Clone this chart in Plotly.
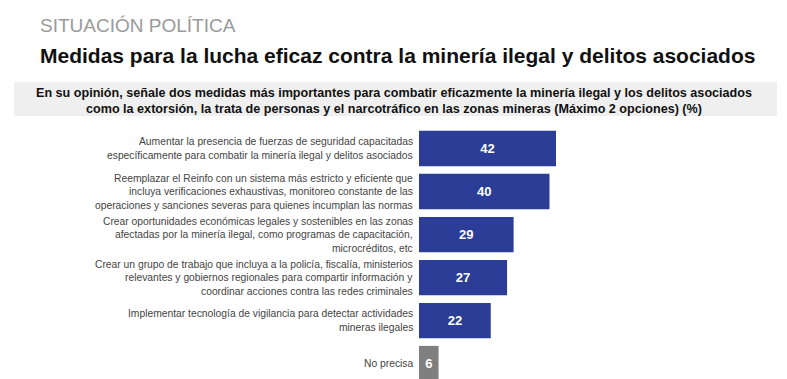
import plotly.graph_objects as go

categories = [
    "Aumentar la presencia de fuerzas de seguridad capacitadas<br>específicamente para combatir la minería ilegal y delitos asociados",
    "Reemplazar el Reinfo con un sistema más estricto y eficiente que<br>incluya verificaciones exhaustivas, monitoreo constante de las<br>operaciones y sanciones severas para quienes incumplan las normas",
    "Crear oportunidades económicas legales y sostenibles en las zonas<br>afectadas por la minería ilegal, como programas de capacitación,<br>microcréditos, etc",
    "Crear un grupo de trabajo que incluya a la policía, fiscalía, ministerios<br>relevantes y gobiernos regionales para compartir información y<br>coordinar acciones contra las redes criminales",
    "Implementar tecnología de vigilancia para detectar actividades<br>mineras ilegales",
    "No precisa",
]
values = [42, 40, 29, 27, 22, 6]
bar_colors = ["#2b3d96", "#2b3d96", "#2b3d96", "#2b3d96", "#2b3d96", "#7f7f7f"]

W, H = 787, 379
OFF = 8  # page body margin offset
L, T = 419 - OFF, 127 - OFF
PW, PH = W - L, H - T
PX_PER_UNIT = 137 / 42
Y_LOW = 5.36 + OFF / 43

fig = go.Figure(go.Bar(
    x=values, y=list(range(len(categories))), orientation="h",
    marker=dict(color=bar_colors, line=dict(width=0)),
    width=0.82,
    text=[str(v) for v in values], textposition="inside",
    insidetextanchor="middle",
    textfont=dict(family="Liberation Sans, Arial", size=13, color="white", weight="bold"),
    cliponaxis=False,
))

fig.update_layout(
    width=W, height=H,
    margin=dict(l=L, r=0, t=T, b=0, autoexpand=False),
    paper_bgcolor="white", plot_bgcolor="white",
    showlegend=False,
    xaxis=dict(range=[0, PW / PX_PER_UNIT], visible=False, fixedrange=True, automargin=False),
    yaxis=dict(range=[Y_LOW, -0.5], visible=False, automargin=False),
)

def py(px):
    return 1 + (T - (px - OFF)) / PH

def px_x(px):
    return ((px - OFF) - L) / PW

# category labels, one annotation per text line
line_h = 13.5
for i, cat in enumerate(categories):
    lines = cat.split("<br>")
    n = len(lines)
    for j, ln in enumerate(lines):
        fig.add_annotation(xref="paper", yref="y", x=px_x(415), y=i,
                           xanchor="right", yanchor="middle", showarrow=False,
                           yshift=-(j - (n - 1) / 2) * line_h,
                           text=ln,
                           font=dict(family="Liberation Sans, Arial", size=10.3, color="#444444"))

fig.add_shape(type="rect", xref="paper", yref="paper",
              x0=px_x(14), x1=px_x(777), y0=py(116), y1=py(82),
              fillcolor="#efefef", line=dict(width=0), layer="below")

fig.add_annotation(xref="paper", yref="paper",
                   x=px_x(394), y=py(101.5),
                   xanchor="center", yanchor="middle", showarrow=False, align="center",
                   text="En su opinión, señale dos medidas más importantes para combatir eficazmente la minería ilegal y los delitos asociados<br>como la extorsión, la trata de personas y el narcotráfico en las zonas mineras (Máximo 2 opciones) (%)",
                   font=dict(family="Liberation Sans Narrow, Liberation Sans, Arial", size=12.6, color="#111111", weight="bold"))

fig.add_annotation(xref="paper", yref="paper",
                   x=px_x(38), y=py(25),
                   xanchor="left", yanchor="middle", showarrow=False,
                   text="SITUACIÓN POLÍTICA",
                   font=dict(family="Liberation Sans, Arial", size=19, color="#9a9a9a"))

fig.add_annotation(xref="paper", yref="paper",
                   x=px_x(38), y=py(55),
                   xanchor="left", yanchor="middle", showarrow=False,
                   text="<b>Medidas para la lucha eficaz contra la minería ilegal y delitos asociados</b>",
                   font=dict(family="Liberation Sans, Arial", size=21, color="#111111"))

fig.write_html("out.html")
